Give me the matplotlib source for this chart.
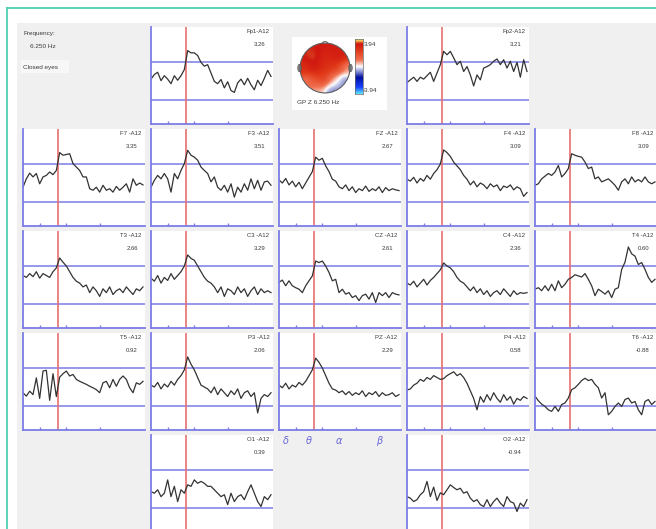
import numpy as np
import matplotlib.pyplot as plt
from matplotlib.colors import LinearSegmentedColormap
from matplotlib.patches import Rectangle, Ellipse, Polygon, Circle

# Spectral bins (Hz) shared by all channels
freqs = np.arange(1.0, 19.01, 0.5)
sel_freq = 6.25
band_ticks = [3.5, 7.5, 12.5]
band_names = ['δ', 'θ', 'α', 'β']
band_pos = [2.0, 5.5, 10.0, 16.0]

# Z-scores at the selected frequency
channels = ['Fp1', 'Fp2', 'F7', 'F3', 'FZ', 'F4', 'F8', 'T3', 'C3', 'CZ', 'C4', 'T4',
            'T5', 'P3', 'PZ', 'P4', 'T6', 'O1', 'O2']
zvals = [3.26, 3.21, 3.35, 3.51, 2.67, 3.09, 3.09, 2.66, 3.29, 2.61, 2.36, 0.60,
         0.92, 2.06, 2.29, 0.58, -0.88, 0.39, -0.94]

# Spectra (scaled so the two reference lines sit at 0 and 1)
fp1 = [0.55, 0.67, 0.73, 0.51, 0.64, 0.55, 0.43, 0.64, 0.52, 0.64, 0.80, 1.30, 1.24, 1.24, 1.17,
       0.99, 0.89, 0.93, 0.71, 0.49, 0.43, 0.54, 0.32, 0.48, 0.25, 0.20, 0.45, 0.55, 0.40, 0.57,
       0.40, 0.27, 0.52, 0.38, 0.57, 0.78, 0.62]
fp2 = [0.46, 0.53, 0.60, 0.49, 0.60, 0.55, 0.64, 0.73, 0.49, 0.71, 0.93, 1.28, 1.19, 1.28, 1.11,
       0.93, 1.02, 0.75, 0.88, 0.66, 0.37, 0.66, 0.53, 0.84, 0.88, 0.93, 1.02, 1.08, 0.93, 1.06,
       0.84, 1.02, 0.75, 0.99, 0.60, 1.06, 0.75]
f7 = [0.39, 0.61, 0.76, 0.66, 0.75, 0.48, 0.66, 0.70, 0.79, 0.72, 0.83, 1.30, 1.23, 1.25, 1.27,
      1.01, 0.92, 0.83, 0.66, 0.66, 0.35, 0.31, 0.39, 0.26, 0.44, 0.31, 0.35, 0.26, 0.41, 0.31,
      0.39, 0.48, 0.26, 0.61, 0.44, 0.50, 0.45]
f3 = [0.39, 0.57, 0.70, 0.61, 0.75, 0.61, 0.26, 0.75, 0.61, 0.83, 1.01, 1.36, 1.23, 1.18, 1.10,
      0.92, 0.83, 0.75, 0.53, 0.66, 0.39, 0.31, 0.44, 0.26, 0.48, 0.13, 0.39, 0.26, 0.48, 0.31,
      0.61, 0.35, 0.57, 0.31, 0.53, 0.55, 0.44]
fz = [0.58, 0.50, 0.62, 0.45, 0.55, 0.40, 0.52, 0.35, 0.50, 0.65, 0.80, 1.18, 1.10, 1.15, 0.95,
      0.80, 0.60, 0.55, 0.40, 0.35, 0.45, 0.30, 0.40, 0.25, 0.35, 0.30, 0.42, 0.28, 0.35, 0.30,
      0.40, 0.25, 0.38, 0.30, 0.35, 0.32, 0.30]
f4 = [0.60, 0.55, 0.65, 0.50, 0.62, 0.55, 0.70, 0.60, 0.75, 0.85, 1.00, 1.37, 1.30, 1.20, 1.05,
      0.95, 0.85, 0.70, 0.60, 0.45, 0.55, 0.40, 0.50, 0.45, 0.35, 0.48, 0.40, 0.45, 0.30, 0.42,
      0.38, 0.45, 0.32, 0.40, 0.35, 0.15, 0.25]
f8 = [0.44, 0.48, 0.61, 0.68, 0.75, 0.70, 0.79, 0.96, 0.66, 0.75, 0.88, 1.27, 1.23, 1.20, 1.18,
      1.05, 0.88, 0.92, 0.61, 0.66, 0.53, 0.57, 0.61, 0.53, 0.44, 0.31, 0.53, 0.61, 0.48, 0.66,
      0.53, 0.59, 0.53, 0.66, 0.53, 0.48, 0.53]
t3 = [0.75, 0.70, 0.80, 0.72, 0.85, 0.68, 0.80, 0.75, 0.70, 0.85, 0.95, 1.21, 1.10, 1.00, 0.85,
      0.70, 0.60, 0.55, 0.45, 0.50, 0.30, 0.45, 0.35, 0.20, 0.40, 0.30, 0.45, 0.25, 0.35, 0.40,
      0.30, 0.45, 0.35, 0.25, 0.40, 0.35, 0.45]
c3 = [0.68, 0.60, 0.75, 0.55, 0.70, 0.62, 0.80, 0.65, 0.75, 0.85, 1.00, 1.29, 1.20, 1.15, 1.00,
      0.85, 0.70, 0.60, 0.55, 0.45, 0.30, 0.45, 0.20, 0.40, 0.35, 0.25, 0.45, 0.30, 0.40, 0.20,
      0.35, 0.45, 0.25, 0.40, 0.30, 0.35, 0.30]
cz = [0.57, 0.63, 0.48, 0.61, 0.48, 0.43, 0.39, 0.30, 0.48, 0.61, 0.74, 1.13, 1.09, 1.13, 1.00,
      0.83, 0.61, 0.65, 0.30, 0.39, 0.26, 0.30, 0.17, 0.22, 0.09, 0.22, 0.26, 0.13, 0.30, 0.04,
      0.30, 0.22, 0.30, 0.17, 0.30, 0.26, 0.24]
c4 = [0.55, 0.50, 0.60, 0.45, 0.55, 0.65, 0.50, 0.62, 0.70, 0.80, 0.90, 1.08, 1.00, 0.95, 0.85,
      0.70, 0.60, 0.55, 0.45, 0.35, 0.45, 0.30, 0.40, 0.25, 0.35, 0.20, 0.30, 0.35, 0.25, 0.40,
      0.30, 0.20, 0.35, 0.25, 0.30, 0.28, 0.30]
t4 = [0.39, 0.43, 0.35, 0.48, 0.35, 0.52, 0.35, 0.61, 0.43, 0.52, 0.65, 0.70, 0.77, 0.74, 0.71,
      0.80, 0.65, 0.48, 0.22, 0.39, 0.33, 0.26, 0.35, 0.17, 0.39, 0.43, 0.91, 1.10, 1.50, 1.32,
      1.26, 1.04, 1.09, 0.91, 0.70, 0.57, 0.65]
t5 = [0.35, 0.26, 0.39, 0.30, 0.74, 0.20, 0.92, 0.94, 0.15, 0.85, 0.25, 0.76, 0.85, 0.92, 0.79,
      0.83, 0.70, 0.65, 0.61, 0.57, 0.52, 0.48, 0.43, 0.35, 0.61, 0.65, 0.48, 0.70, 0.52, 0.70,
      0.79, 0.70, 0.48, 0.35, 0.61, 0.57, 0.65]
p3 = [0.55, 0.50, 0.62, 0.45, 0.58, 0.50, 0.65, 0.55, 0.70, 0.80, 0.95, 1.29, 1.10, 0.95, 0.75,
      0.55, 0.50, 0.45, 0.35, 0.50, 0.30, 0.45, 0.35, 0.25, 0.40, 0.30, 0.45, 0.20, 0.35, 0.40,
      0.25, 0.35, -0.18, 0.20, 0.30, 0.25, 0.35]
pz = [0.55, 0.48, 0.60, 0.45, 0.55, 0.50, 0.62, 0.55, 0.65, 0.80, 0.95, 1.26, 1.15, 1.00, 0.80,
      0.60, 0.45, 0.42, 0.35, 0.40, 0.30, 0.38, 0.28, 0.35, 0.30, 0.40, 0.25, 0.35, 0.30, 0.38,
      0.25, 0.35, 0.28, 0.30, 0.35, 0.25, 0.30]
p4 = [0.42, 0.45, 0.55, 0.60, 0.70, 0.65, 0.75, 0.70, 0.80, 0.75, 0.70, 0.72, 0.80, 0.85, 0.90,
      0.80, 0.85, 0.75, 0.60, 0.40, 0.20, -0.10, 0.25, 0.10, 0.30, 0.15, 0.35, 0.20, 0.10, 0.30,
      0.15, 0.25, 0.05, 0.20, 0.15, 0.25, 0.20]
t6 = [0.26, 0.14, 0.05, -0.01, -0.10, -0.14, -0.01, -0.14, 0.04, 0.08, 0.21, 0.43, 0.48, 0.57,
      0.67, 0.73, 0.67, 0.70, 0.57, 0.48, 0.21, 0.35, -0.23, -0.14, -0.01, 0.08, -0.01, 0.17, 0.21,
      0.08, 0.12, -0.10, -0.23, 0.12, 0.17, 0.04, 0.12]
o1 = [0.43, 0.39, 0.48, 0.30, 0.39, 0.74, 0.30, 0.57, 0.17, 0.48, 0.39, 0.61, 0.57, 0.74, 0.65,
      0.70, 0.65, 0.57, 0.57, 0.48, 0.39, 0.30, 0.35, 0.09, 0.39, 0.17, 0.30, 0.35, 0.22, 0.43,
      0.61, 0.39, 0.17, 0.04, 0.30, 0.22, 0.35]
o2 = [0.30, 0.26, 0.17, 0.22, 0.35, 0.43, 0.70, 0.30, 0.55, 0.20, 0.40, 0.35, 0.48, 0.61, 0.54,
      0.48, 0.52, 0.39, 0.43, 0.26, 0.17, 0.22, 0.09, 0.04, 0.22, 0.04, 0.17, 0.26, 0.13, 0.04,
      0.30, 0.17, 0.13, -0.09, 0.13, 0.04, 0.22]

spectra = [fp1, fp2, f7, f3, fz, f4, f8, t3, c3, cz, c4, t4, t5, p3, pz, p4, t6, o1, o2]
# grid slot (row, col) of each channel
slots = [(0, 1), (0, 3), (1, 0), (1, 1), (1, 2), (1, 3), (1, 4), (2, 0), (2, 1), (2, 2),
         (2, 3), (2, 4), (3, 0), (3, 1), (3, 2), (3, 3), (3, 4), (4, 1), (4, 3)]
# electrode positions on the unit head
elec_x = [-0.29, 0.29, -0.72, -0.36, 0.0, 0.36, 0.72, -0.86, -0.43, 0.0, 0.43, 0.86,
          -0.72, -0.36, 0.0, 0.36, 0.72, -0.29, 0.29]
elec_y = [0.82, 0.82, 0.52, 0.45, 0.43, 0.45, 0.52, 0.0, 0.0, 0.0, 0.0, 0.0,
          -0.52, -0.45, -0.43, -0.45, -0.52, -0.82, -0.82]

W, H = 656, 529
BLUE = '#7c7ce4'
RED = '#e77070'
TXT = '#3a3a3a'
col_x = [23, 151, 279, 407, 535]
row_y = [27, 129, 231, 333, 435]
pw, ph = 122, 97

fig = plt.figure(figsize=(W / 100, H / 100), dpi=100)


def box(x, y, w, h):
    return [x / W, 1 - (y + h) / H, w / W, h / H]


# background: teal frame and grey work area
bg = fig.add_axes([0, 0, 1, 1])
bg.set_xlim(0, W)
bg.set_ylim(H, 0)
bg.axis('off')
bg.add_patch(Rectangle((17, 23), W - 17, H - 23, color='#f0f0f0', lw=0))
bg.plot([7, 7], [8, H], color='#52cfb4', lw=1.3)
bg.plot([7, W], [8, 8], color='#52cfb4', lw=1.3)
bg.add_patch(Rectangle((21, 60), 48, 13, color='#f7f7f7', lw=0))
bg.text(23, 34, 'Frequency:', fontsize=4.6, color=TXT, va='center', family='Liberation Sans')
bg.text(30, 46, '6.250 Hz', fontsize=4.6, color=TXT, va='center', family='Liberation Sans')
bg.text(23, 67, 'Closed eyes', fontsize=4.6, color=TXT, va='center', family='Liberation Sans')
for name, f in zip(band_names, band_pos):
    bg.text(279 + (f - 1.0) / 18.3 * pw, 441, name, fontsize=7, color='#6868dc',
            style='italic', ha='center', va='center')

# spectrum panels
for name, z, spec, (r, c) in zip(channels, zvals, spectra, slots):
    ax = fig.add_axes(box(col_x[c], row_y[r], pw, ph))
    ax.set_facecolor('white')
    ax.set_xlim(1.0, 19.3)
    ax.set_ylim(-0.63, 1.92)
    for s in ['top', 'right']:
        ax.spines[s].set_visible(False)
    for s in ['left', 'bottom']:
        ax.spines[s].set_color(BLUE)
        ax.spines[s].set_linewidth(1.3)
    ax.set_xticks(band_ticks)
    ax.set_yticks([])
    ax.tick_params(axis='x', direction='in', length=2, width=1, color=BLUE, labelbottom=False)
    ax.axhline(1.0, color=BLUE, lw=1.1)
    ax.axhline(0.0, color=BLUE, lw=1.1)
    ax.axvline(sel_freq, color=RED, lw=1.2)
    ax.plot(freqs, spec, color='#333333', lw=0.9)
    ax.text(0.97, 0.955, name + ('-A12' if name.startswith('Fp') else ' -A12'),
            transform=ax.transAxes, ha='right', va='center', fontsize=4.3, color=TXT,
            family='Liberation Sans')
    ax.text(0.94, 0.82, f'{z:.2f}', transform=ax.transAxes, ha='right', va='center',
            fontsize=4.3, color=TXT, family='Liberation Sans')

# topographic map at the selected frequency
bg.add_patch(Rectangle((292, 37), 95, 73, color='white', lw=0))
cmap = LinearSegmentedColormap.from_list(
    'zmap', [(0.0, '#58e8ff'), (0.12, '#1840ff'), (0.3, '#0010a0'), (0.5, '#ffffff'),
             (0.62, '#f07050'), (0.8, '#e03818'), (0.92, '#d01810'), (1.0, '#ffff70')])
hx = fig.add_axes(box(296, 38, 58, 60))
hx.set_xlim(-1.16, 1.16)
hx.set_ylim(-1.09, 1.09)
hx.axis('off')
g = np.linspace(-1, 1, 160)
gx, gy = np.meshgrid(g, g)
ex, ey, ez = np.array(elec_x), np.array(elec_y), np.array(zvals)
d2 = (gx[..., None] - ex) ** 2 + (gy[..., None] - ey) ** 2
wgt = np.exp(-d2 / (2 * 0.22 ** 2))
field = (wgt * ez).sum(-1) / wgt.sum(-1)
field = np.ma.masked_where(gx ** 2 + gy ** 2 > 1, field)
im = hx.imshow(field, extent=[-1, 1, -1, 1], origin='lower', cmap=cmap, vmin=-3.94,
               vmax=3.94, interpolation='bilinear')
im.set_clip_path(Circle((0, 0), 1, transform=hx.transData))
hx.add_patch(Polygon([[-0.13, 0.985], [0, 1.09], [0.13, 0.985]], closed=False,
                     fill=False, ec='#555555', lw=0.7))
for sx in (-1, 1):
    hx.add_patch(Ellipse((sx * 1.02, 0.0), 0.14, 0.3, fc='#888888', ec='#555555', lw=0.5))
hx.add_patch(Circle((0, 0), 1, fill=False, ec='#555555', lw=0.7))

cb = fig.add_axes(box(355, 39, 8, 55))
cb.imshow(np.linspace(-3.94, 3.94, 100)[:, None], aspect='auto', origin='lower', cmap=cmap,
          vmin=-3.94, vmax=3.94, extent=[0, 1, -3.94, 3.94])
cb.set_xticks([])
cb.set_yticks([])
for s in cb.spines.values():
    s.set_color('#666666')
    s.set_linewidth(0.5)
bg.text(364, 44, '3.94', fontsize=4.6, color=TXT, va='center', family='Liberation Sans')
bg.text(363, 91, '-3.94', fontsize=4.6, color=TXT, va='center', family='Liberation Sans')
bg.text(297, 102, 'GP Z 6.250 Hz', fontsize=4.6, color=TXT, va='center', family='Liberation Sans')

fig.savefig('out.png', dpi=100)
